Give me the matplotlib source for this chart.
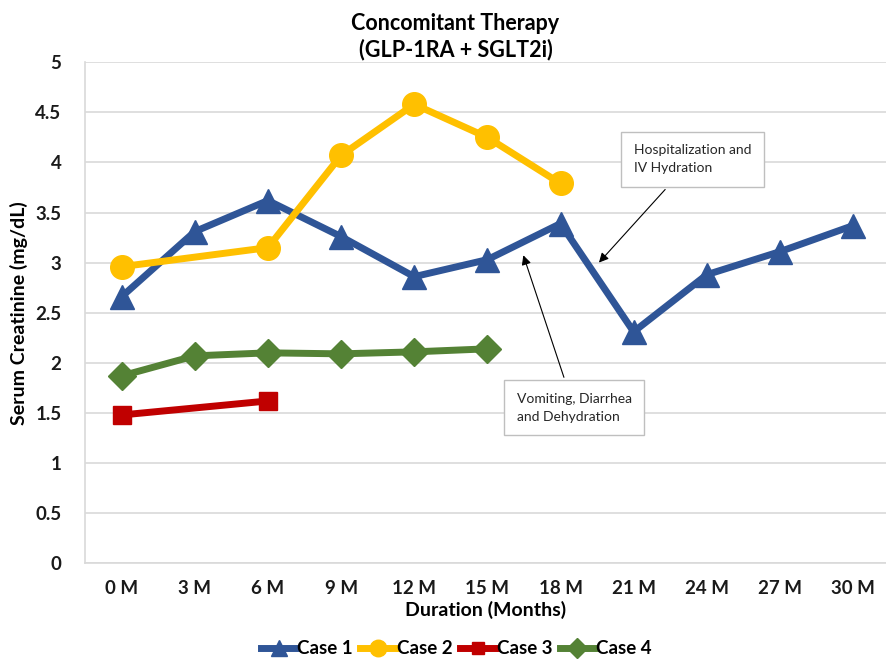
import numpy as np
import matplotlib.pyplot as plt

plt.rcParams['font.family'] = ['Lato', 'DejaVu Sans']

months = ["0 M", "3 M", "6 M", "9 M", "12 M", "15 M", "18 M", "21 M", "24 M", "27 M", "30 M"]

case1_idx = [0, 1, 2, 3, 4, 5, 6, 7, 8, 9, 10]
case1 = [2.66, 3.31, 3.62, 3.26, 2.86, 3.03, 3.39, 2.31, 2.88, 3.11, 3.37]

case2_idx = [0, 2, 3, 4, 5, 6]
case2 = [2.96, 3.15, 4.07, 4.58, 4.25, 3.79]

case3_idx = [0, 2]
case3 = [1.48, 1.62]

case4_idx = [0, 1, 2, 3, 4, 5]
case4 = [1.87, 2.07, 2.10, 2.09, 2.11, 2.14]

fig = plt.figure(figsize=(8.86, 6.69), dpi=100)
ax = fig.add_axes([0.096, 0.158, 0.904, 0.749])

lw = 5
ax.plot(case1_idx, case1, color="#2f5597", lw=lw, marker="^", ms=17, label="Case 1", zorder=3)
ax.plot(case2_idx, case2, color="#ffc000", lw=lw, marker="o", ms=17, label="Case 2", zorder=4)
ax.plot(case3_idx, case3, color="#c00000", lw=lw, marker="s", ms=13, label="Case 3", zorder=3)
ax.plot(case4_idx, case4, color="#548235", lw=lw, marker="D", ms=14, label="Case 4", zorder=3)

ax.set_ylim(0, 5)
ax.set_xlim(-0.5, 10.45)
ax.set_yticks(np.arange(0, 5.01, 0.5))
ax.set_yticklabels(["0", "0.5", "1", "1.5", "2", "2.5", "3", "3.5", "4", "4.5", "5"])
ax.set_xticks(range(len(months)))
ax.set_xticklabels(months)
ax.tick_params(length=0, labelsize=13.5)
ax.tick_params(axis="x", pad=12)
ax.tick_params(axis="y", pad=17)
for lab in ax.get_xticklabels() + ax.get_yticklabels():
    lab.set_fontweight("bold")
    lab.set_color("#1a1a1a")

ax.grid(axis="y", color="#d9d9d9", lw=1.2)
ax.set_axisbelow(True)
for s in ["top", "right"]:
    ax.spines[s].set_visible(False)
for s in ["left", "bottom"]:
    ax.spines[s].set_color("#d9d9d9")
    ax.spines[s].set_linewidth(1.2)

fig.text(0.514, 0.945, "Concomitant Therapy\n(GLP-1RA + SGLT2i)", fontsize=15.5, fontweight="bold",
         ha="center", va="center", linespacing=1.25)
ax.set_xlabel("Duration (Months)", fontsize=14, fontweight="bold", labelpad=3)
ax.set_ylabel("Serum Creatinine (mg/dL)", fontsize=14, fontweight="bold", labelpad=5)

box = dict(boxstyle="square,pad=0.9", fc="white", ec="#bfbfbf", lw=1)
arrow = dict(arrowstyle="-|>", color="black", lw=0.8, mutation_scale=14)
ax.annotate("Hospitalization and\nIV Hydration", xy=(6.5, 2.98), xytext=(7.0, 4.03),
            fontsize=10, va="center", ha="left", bbox=box, arrowprops=arrow,
            color="#262626", linespacing=1.6)
ax.annotate("Vomiting, Diarrhea\nand Dehydration", xy=(5.48, 3.1), xytext=(5.4, 1.55),
            fontsize=10, va="center", ha="left", bbox=box, arrowprops=arrow,
            color="#262626", linespacing=1.6)

leg = fig.legend(loc="lower center", bbox_to_anchor=(0.515, -0.008), ncol=4, frameon=False,
                 fontsize=13.5, handlelength=1.9, columnspacing=0.4, handletextpad=0.05,
                 markerscale=0.7)
for t in leg.get_texts():
    t.set_fontweight("bold")

fig.savefig("out.png", dpi=100)
